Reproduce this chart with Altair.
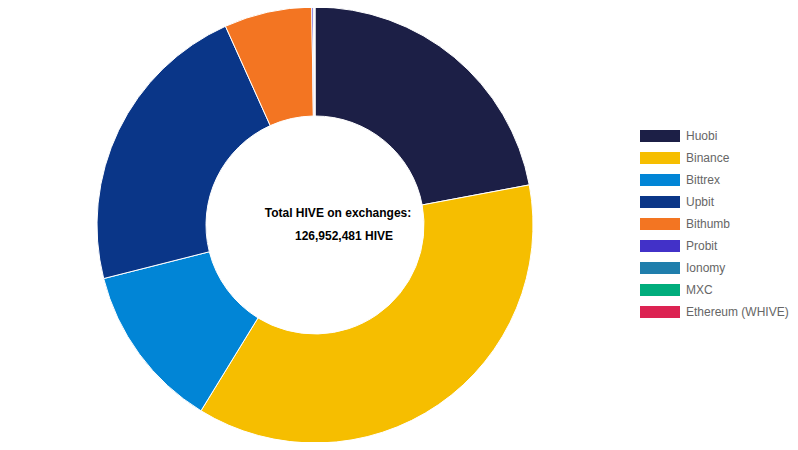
import altair as alt
import pandas as pd

exchanges = ["Huobi", "Binance", "Bittrex", "Upbit", "Bithumb", "Probit", "Ionomy", "MXC", "Ethereum (WHIVE)"]
hive_amounts = [28000000, 46600000, 15600000, 28200000, 8250000, 150000, 50000, 50000, 52481]
colors = ["#1c1f46", "#f6be00", "#0185d6", "#0a3688", "#f37522", "#4231c8", "#1f7eac", "#00ad7c", "#dc2352"]
center_lines = ["Total HIVE on exchanges:", "126,952,481 HIVE"]

df = pd.DataFrame({"exchange": exchanges, "hive": hive_amounts, "idx": list(range(len(exchanges)))})

FONT = "Liberation Sans"

arc = alt.Chart(df).mark_arc(outerRadius=218, innerRadius=109, stroke="white", strokeWidth=1).encode(
    theta=alt.Theta("hive:Q", stack=True),
    order=alt.Order("idx:Q"),
    color=alt.Color(
        "exchange:N",
        scale=alt.Scale(domain=exchanges, range=colors),
        legend=alt.Legend(
            orient="none", legendX=632, legendY=122, title=None,
            symbolType="M-1,-1L5.667,-1L5.667,1L-1,1Z", symbolSize=144,
            symbolStrokeWidth=0, symbolOpacity=1,
            labelFont=FONT, labelFontSize=12, labelColor="#666666",
            labelOffset=34, rowPadding=10, padding=0,
        ),
    ),
    x=alt.value(307),
    y=alt.value(217),
)

t1 = alt.Chart(df).mark_text(font=FONT, fontSize=12, fontWeight="bold", color="#000000",
                             align="center", baseline="middle").encode(
    text=alt.value(center_lines[0]), x=alt.value(330), y=alt.value(205)
).transform_filter(alt.datum.idx == 0)

t2 = alt.Chart(df).mark_text(font=FONT, fontSize=12, fontWeight="bold", color="#000000",
                             align="center", baseline="middle").encode(
    text=alt.value(center_lines[1]), x=alt.value(336), y=alt.value(228)
).transform_filter(alt.datum.idx == 0)

chart = alt.layer(arc, t1, t2).properties(
    width=782, height=434, autosize=alt.AutoSizeParams(type="none"), padding=0
).configure_view(stroke=None, strokeWidth=0, fill=None)

chart.save("out.html", embed_options={"renderer": "svg", "actions": False})
